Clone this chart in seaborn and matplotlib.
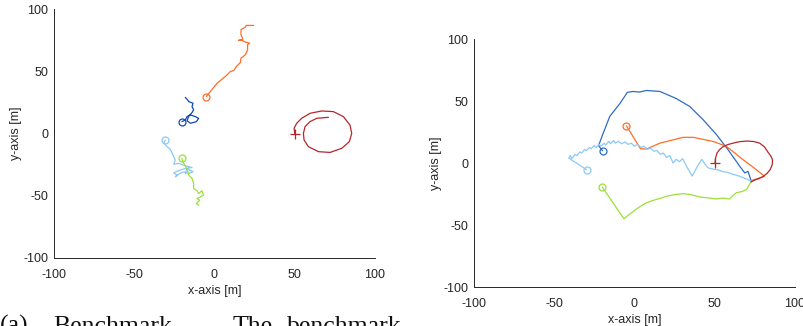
import numpy as np
import pandas as pd
import matplotlib
matplotlib.use("Agg")
import matplotlib.pyplot as plt
import seaborn as sns

# ---- left panel (benchmark) trajectories ----
left_orange_x = [-5.1, -2.6, 1.6, 4.7, 7.8, 9.9, 12.0, 13.6, 16.1, 16.5, 19.2, 20.6, 20.6, 21.9, 19.8, 17.1, 15.0, 17.7, 16.5, 16.5, 19.2, 19.8, 24.4]
left_orange_y = [29.7, 33.7, 40.4, 43.6, 47.0, 49.8, 50.6, 53.8, 57.0, 60.5, 63.2, 67.2, 71.3, 72.6, 73.2, 74.8, 74.8, 75.8, 79.3, 83.4, 85.5, 86.8, 86.8]

left_blue_x = [-20.3, -18.2, -17.1, -15.0, -12.0, -9.9, -11.3, -15.0, -17.1, -16.0, -14.0, -13.0, -14.0, -13.4, -16.0, -17.1, -18.2]
left_blue_y = [9.5, 10.9, 13.6, 14.9, 13.6, 12.2, 9.5, 8.2, 10.3, 14.0, 16.8, 19.0, 21.6, 24.3, 25.6, 27.5, 29.0]

left_light_x = [-30.6, -31.6, -29.5, -27.5, -26.5, -25.4, -24.4, -25.4, -22.3, -19.2, -16.1, -14.0, -18.2, -21.3, -25.4, -23.4, -24.4, -22.3, -19.2, -16.1, -13.4, -17.1, -18.2]
left_light_y = [-5.2, -7.4, -10.6, -12.8, -15.4, -18.7, -21.3, -24.6, -24.0, -25.4, -26.7, -27.3, -28.1, -29.4, -31.5, -33.4, -34.8, -32.6, -30.8, -32.2, -30.8, -28.1, -32.2]

left_green_x = [-20.3, -19.6, -18.2, -16.8, -16.1, -14.0, -13.0, -13.0, -10.9, -9.9, -7.8, -6.8, -8.8, -10.9, -9.2, -11.3, -9.9]
left_green_y = [-20.0, -22.7, -26.2, -29.4, -33.4, -36.1, -40.1, -44.2, -46.0, -48.2, -46.0, -49.5, -50.9, -52.2, -53.6, -56.2, -57.6]

left_red_x = [50.0, 49.6, 51.2, 54.3, 59.5, 66.8, 74.0, 80.3, 84.4, 85.5, 84.0, 79.3, 72.0, 64.8, 58.5, 55.8, 55.4, 56.4, 59.5, 63.7, 71.0]
left_red_y = [0.0, 4.2, 8.2, 12.2, 16.2, 18.1, 17.6, 13.6, 6.8, 0.1, -6.6, -11.9, -15.2, -14.6, -10.6, -5.2, 0.1, 5.5, 9.5, 12.2, 13.0]

# ---- right panel trajectories ----
right_blue_x = [-19.9, -22.4, -19.5, -15.4, -9.1, -4.4, -0.8, 3.0, 7.5, 15.8, 26.0, 34.4, 42.7, 51.0, 58.3, 65.6, 68.7, 70.7, 72.8]
right_blue_y = [9.9, 14.0, 24.0, 37.6, 48.0, 57.0, 57.7, 57.2, 58.5, 57.7, 52.0, 45.6, 35.0, 23.0, 10.7, -2.7, -8.0, -6.7, -14.8]

right_orange_x = [-5.0, 3.7, 7.5, 15.8, 30.3, 36.5, 49.0, 57.3, 67.6, 75.9, 81.0, 78.0, 72.8]
right_orange_y = [30.0, 11.5, 11.3, 16.0, 20.7, 20.7, 17.4, 13.4, 2.7, -5.4, -10.7, -12.0, -14.2]

right_light_x = [-29.9, -41.0, -40.0, -39.0, -37.0, -36.0, -34.0, -33.0, -31.0, -30.0, -28.0, -27.0, -25.0, -24.0, -22.0, -21.0, -19.0, -18.0, -16.0, -15.0, -13.0, -12.0, -10.0, -8.0, -6.0, -4.0, -2.0, 0.0, 2.0, 4.0, 6.0, 8.0, 10.0, 12.0, 14.0, 16.0, 18.0, 20.0, 22.0, 24.0, 26.0, 28.0, 30.0, 33.0, 36.0, 39.0, 42.0, 44.0, 46.0, 49.0, 52.0, 55.0, 58.0, 61.0, 64.0, 67.0, 70.0, 72.8]
right_light_y = [-5.4, 4.0, 6.0, 3.5, 7.0, 6.0, 9.0, 8.0, 11.0, 10.0, 12.5, 11.5, 14.0, 12.5, 15.0, 13.5, 16.0, 14.5, 17.5, 15.5, 18.0, 16.0, 17.5, 15.5, 17.0, 15.0, 16.0, 13.5, 15.0, 12.5, 13.5, 11.0, 12.0, 9.5, 10.0, 7.0, 8.0, 4.5, 6.0, 0.0, 3.0, 1.0, 3.5, -4.0, -10.5, -3.0, 3.0, -1.0, -4.0, -5.0, -5.5, -7.0, -7.5, -9.0, -10.0, -11.5, -13.0, -14.8]

right_green_x = [-20.0, -6.6, -0.8, 3.0, 7.5, 12.0, 16.0, 20.0, 25.0, 30.3, 35.0, 40.7, 45.0, 51.0, 55.0, 59.3, 61.0, 63.5, 67.0, 69.7, 72.8]
right_green_y = [-19.6, -45.0, -39.0, -35.5, -32.0, -30.0, -28.5, -26.8, -25.5, -24.7, -25.5, -27.4, -28.0, -29.0, -28.3, -29.0, -26.5, -24.0, -23.0, -21.5, -14.8]

right_red_x = [50.2, 50.5, 51.4, 53.0, 55.0, 58.0, 61.4, 65.5, 70.0, 74.5, 78.0, 81.0, 83.0, 85.0, 86.0, 85.8, 84.4, 82.5, 80.0, 77.5, 75.0, 72.6]
right_red_y = [0.0, 4.0, 8.0, 10.8, 13.0, 14.8, 16.0, 17.2, 17.7, 17.3, 16.0, 13.0, 9.0, 5.5, 2.4, -1.5, -5.6, -8.5, -11.0, -12.6, -13.7, -15.3]

ticks = [-100, -50, 0, 50, 100]

c_orange = "#FF6D26"
c_blue_l = "#1148B8"
c_blue_r = "#2F6CC6"
c_light = "#8DC9F6"
c_green = "#9BE03A"
c_red = "#B5262A"

sns.set_style("white")
plt.rcParams["font.family"] = ["Liberation Sans", "DejaVu Sans"]
plt.rcParams["xtick.direction"] = "in"
plt.rcParams["ytick.direction"] = "in"

fig = plt.figure(figsize=(8.04, 3.26), dpi=100)
ax1 = fig.add_axes([54 / 804, 1 - 258 / 326, 321 / 804, 249 / 326])
ax2 = fig.add_axes([474 / 804, 1 - 287 / 326, 321 / 804, 248 / 326])


def draw(ax, x, y, color, start="o"):
    df = pd.DataFrame({"x": x, "y": y})
    sns.lineplot(data=df, x="x", y="y", sort=False, estimator=None,
                 color=color, linewidth=0.9, ax=ax)
    if start == "o":
        ax.plot(x[0], y[0], marker="o", markersize=5, markerfacecolor="none",
                markeredgecolor=color, markeredgewidth=0.9, linestyle="none")
    else:
        ax.plot(x[0], y[0], marker="+", markersize=7, color=color,
                markeredgewidth=0.9, linestyle="none")


draw(ax1, left_orange_x, left_orange_y, c_orange)
draw(ax1, left_blue_x, left_blue_y, c_blue_l)
draw(ax1, left_light_x, left_light_y, c_light)
draw(ax1, left_green_x, left_green_y, c_green)
draw(ax1, left_red_x, left_red_y, c_red, start="+")

draw(ax2, right_blue_x, right_blue_y, c_blue_r)
draw(ax2, right_orange_x, right_orange_y, c_orange)
draw(ax2, right_light_x, right_light_y, c_light)
draw(ax2, right_green_x, right_green_y, c_green)
draw(ax2, right_red_x, right_red_y, c_red, start="+")

for ax in (ax1, ax2):
    ax.set_xlim(-100, 100)
    ax.set_ylim(-100, 100)
    ax.set_xticks(ticks)
    ax.set_yticks(ticks)
    ax.set_xticklabels([str(t) for t in ticks])
    ax.set_yticklabels([str(t) for t in ticks])
    ax.tick_params(labelsize=9, length=3, width=0.6, colors="#262626")
    ax.tick_params(axis="x", pad=8)
    ax.tick_params(axis="y", pad=4)
    for s in ("top", "right"):
        ax.spines[s].set_visible(False)
    for s in ("left", "bottom"):
        ax.spines[s].set_linewidth(0.7)
        ax.spines[s].set_color("#262626")
    ax.set_xlabel("x-axis [m]", fontsize=9, color="#262626", labelpad=3)
    ax.set_ylabel("y-axis [m]", fontsize=9, color="#262626", labelpad=1)

# caption fragment cut at the bottom edge, as in the source figure
cap_y = (326 - 333) / 326
for word, px in [("(a)", 0), ("Benchmark.", 53), ("The", 233), ("benchmark", 287)]:
    fig.text(px / 804, cap_y, word, fontsize=18.5, family="Liberation Serif",
             ha="left", va="baseline", color="#111111")

fig.savefig("out.png", dpi=100)
